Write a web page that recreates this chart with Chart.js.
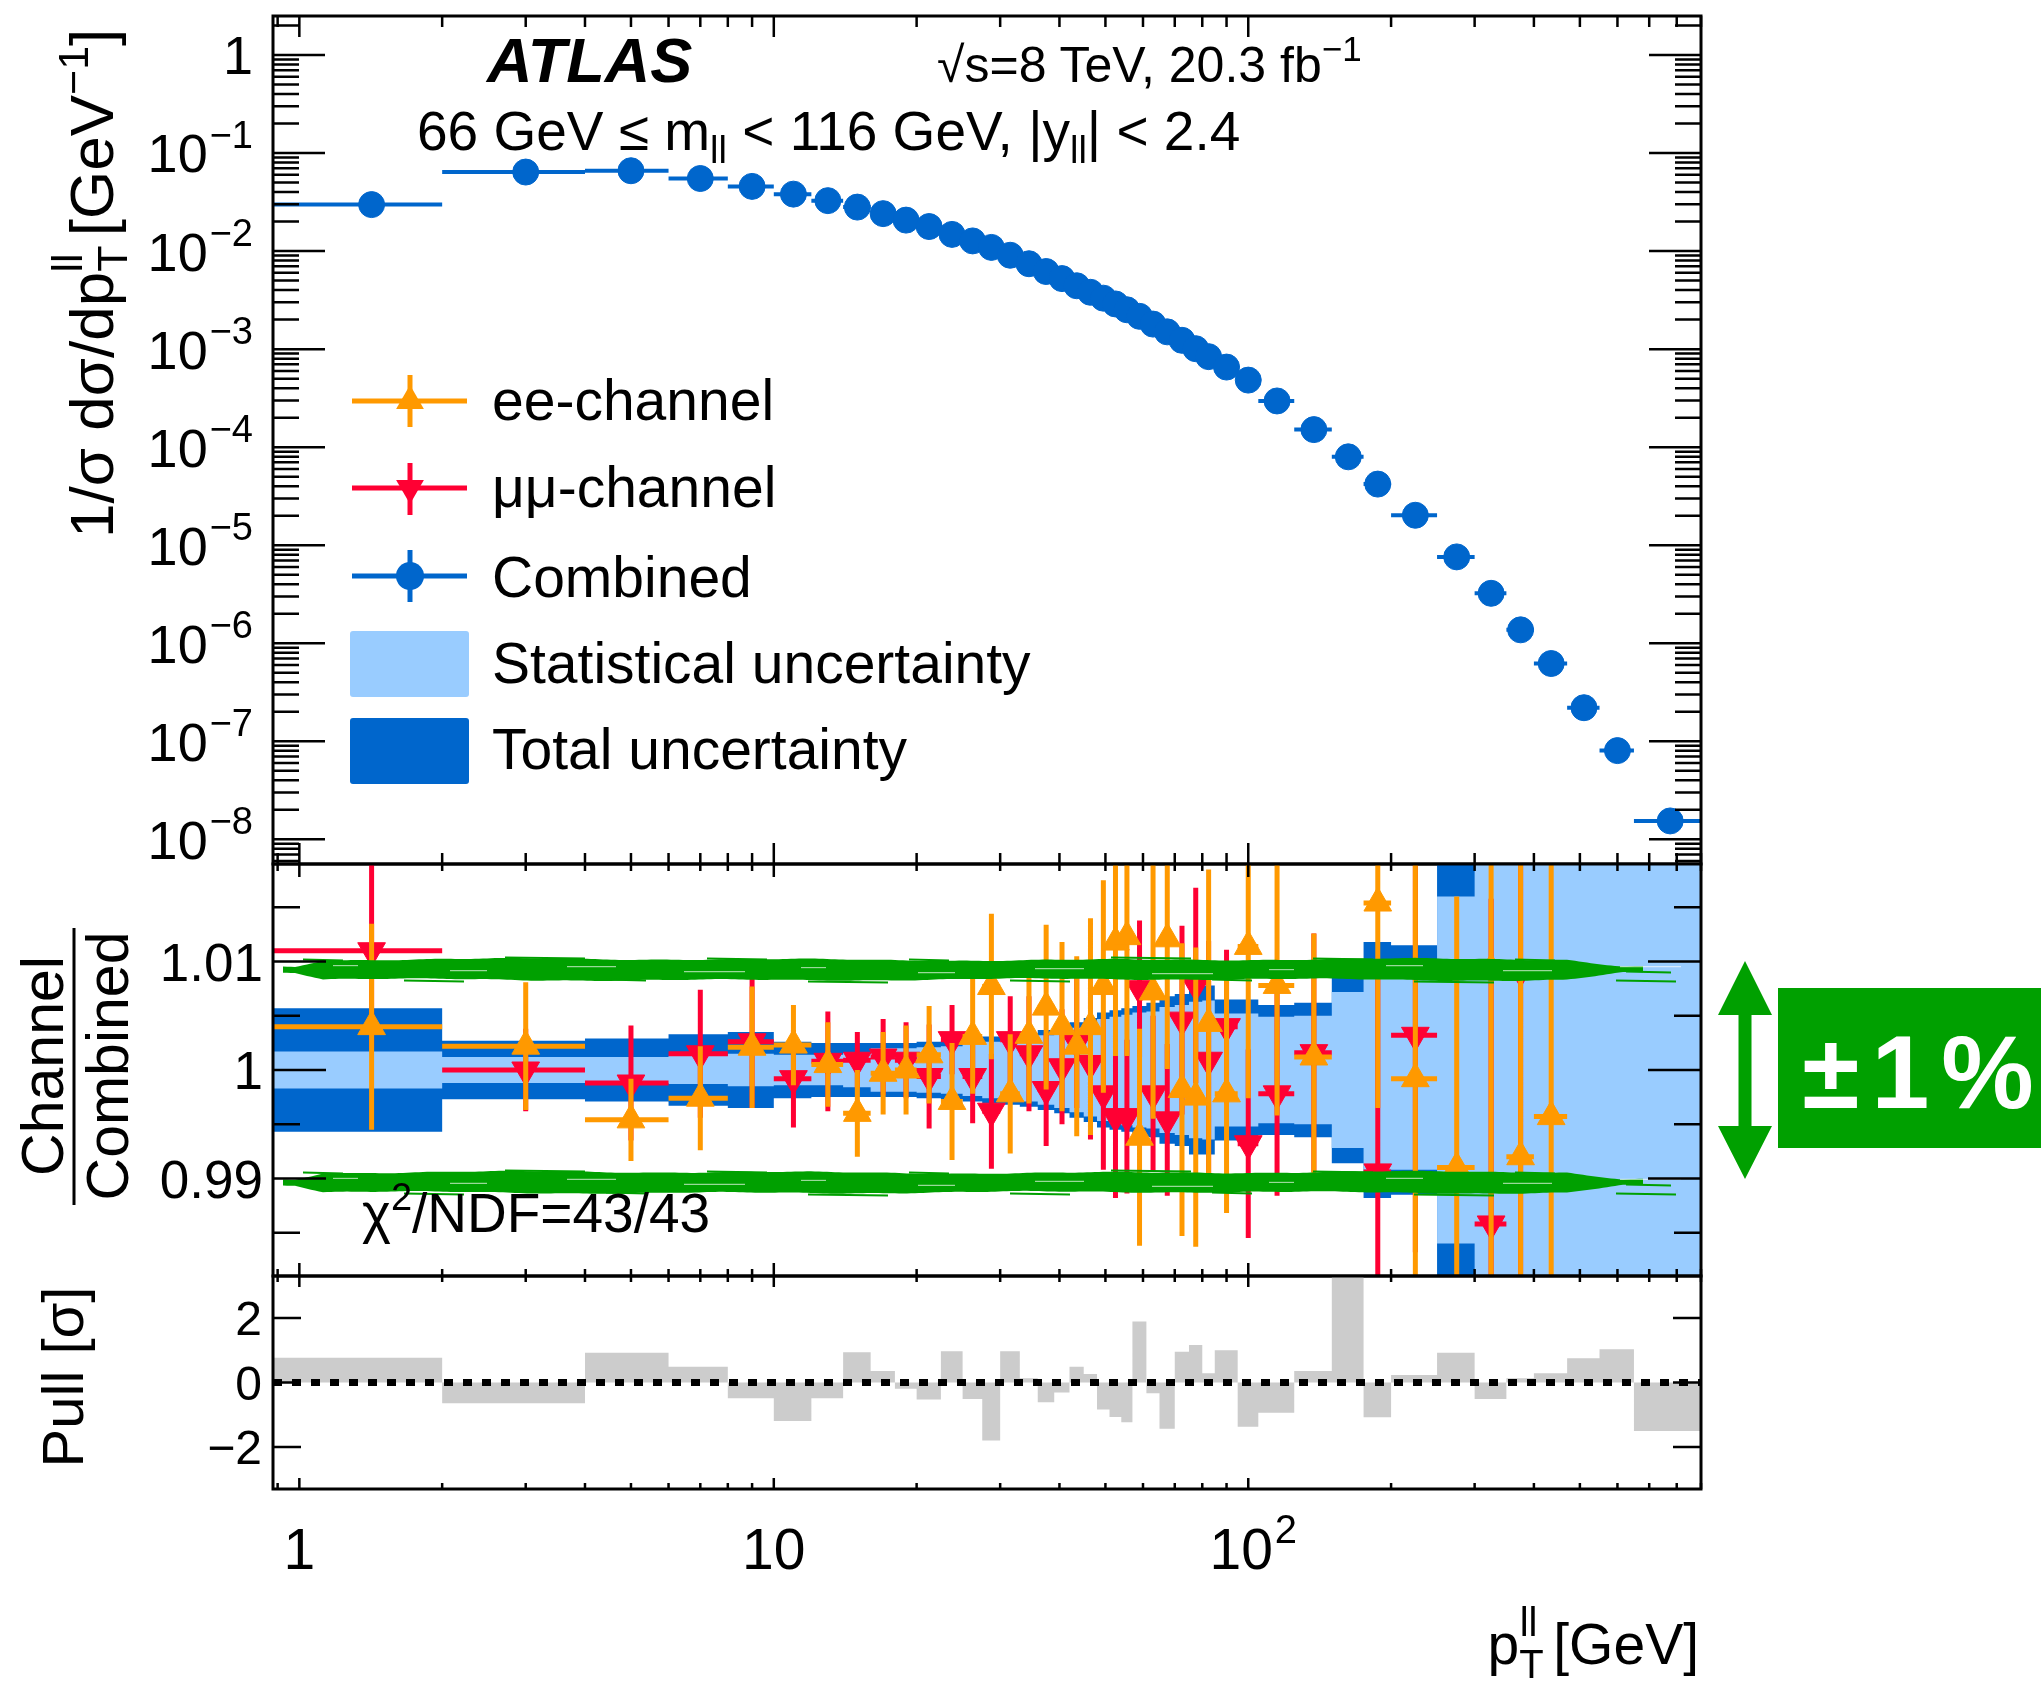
<!DOCTYPE html>
<html>
<head>
<meta charset="utf-8">
<title>ATLAS pT(ll) channel comparison</title>
<script src="https://cdn.jsdelivr.net/npm/chart.js@4.4.1/dist/chart.umd.min.js"></script>
<style>
    html, body { margin: 0; padding: 0; background: #ffffff; }
    #page { position: relative; width: 2041px; height: 1688px; overflow: hidden; background: #ffffff; }
    #page canvas, #page svg { position: absolute; left: 0; top: 0; }
    svg text { font-family: "Liberation Sans", Arial, Helvetica, sans-serif; fill: #000000; }
</style>
</head>
<body>
<div id="page">
    <canvas id="spectrumChart" width="2041" height="1688"></canvas>
    <canvas id="ratioChart" width="2041" height="1688"></canvas>
    <canvas id="pullChart" width="2041" height="1688"></canvas>
    <svg width="2041" height="1688" viewBox="0 0 2041 1688">
        <!-- header -->
        <text x="487" y="82" font-size="63" font-weight="bold" font-style="italic">ATLAS</text>
        <text x="937" y="82" font-size="50">√s=8 TeV, 20.3 fb<tspan dy="-21" font-size="35">−1</tspan></text>
        <text x="417" y="150" font-size="55">66 GeV ≤ m<tspan dy="13" font-size="38">ll</tspan><tspan dy="-13"> &lt; 116 GeV, |y</tspan><tspan dy="13" font-size="38">ll</tspan><tspan dy="-13">| &lt; 2.4</tspan></text>

        <!-- legend -->
        <g stroke-width="5">
            <line x1="352" y1="401" x2="467" y2="401" stroke="#ff9900"/>
            <line x1="410" y1="375" x2="410" y2="427" stroke="#ff9900"/>
            <line x1="352" y1="488" x2="467" y2="488" stroke="#ff0033"/>
            <line x1="410" y1="463" x2="410" y2="515" stroke="#ff0033"/>
            <line x1="352" y1="576" x2="467" y2="576" stroke="#0066cc"/>
            <line x1="410" y1="550" x2="410" y2="602" stroke="#0066cc"/>
        </g>
        <polygon points="410,385 423.9,409 396.1,409" fill="#ff9900"/>
        <polygon points="410,504 423.9,480 396.1,480" fill="#ff0033"/>
        <circle cx="410" cy="576" r="14" fill="#0066cc"/>
        <rect x="350" y="631" width="119" height="66" rx="3" fill="#99ccff"/>
        <rect x="350" y="718" width="119" height="66" rx="3" fill="#0066cc"/>
        <text x="492" y="420" font-size="57">ee-channel</text>
        <text x="492" y="507" font-size="57">μμ-channel</text>
        <text x="492" y="597" font-size="57">Combined</text>
        <text x="492" y="683" font-size="57">Statistical uncertainty</text>
        <text x="492" y="769" font-size="57">Total uncertainty</text>

        <!-- axis titles -->
        <text transform="translate(113,538) rotate(-90)" font-size="62">1/σ dσ/dp<tspan dy="14" font-size="43">T</tspan><tspan dx="-27" dy="-45" font-size="43">ll</tspan><tspan dy="31"> [GeV</tspan><tspan dy="-25" font-size="43">−1</tspan><tspan dy="25">]</tspan></text>
        <text transform="translate(63,1066) rotate(-90)" text-anchor="middle" font-size="59">Channel</text>
        <line x1="74" y1="928" x2="74" y2="1205" stroke="#000000" stroke-width="3"/>
        <text transform="translate(128,1066) rotate(-90)" text-anchor="middle" font-size="59">Combined</text>
        <text transform="translate(83,1377) rotate(-90)" text-anchor="middle" font-size="58">Pull [σ]</text>
        <text x="1699" y="1664" text-anchor="end" font-size="57">p<tspan dy="14" font-size="40">T</tspan><tspan dx="-24" dy="-42" font-size="40">ll</tspan><tspan dy="28"> [GeV]</tspan></text>

        <text x="362" y="1232" font-size="55">χ<tspan dy="-22" font-size="38">2</tspan><tspan dy="22">/NDF=43/43</tspan></text>

        <!-- +-1% marker -->
        <polygon points="1745,961 1772,1015 1751.5,1015 1751.5,1126 1772,1126 1745,1179 1718,1126 1738.5,1126 1738.5,1015 1718,1015" fill="#00a000"/>
        <rect x="1778" y="988" width="263" height="160" fill="#00a000"/>
        <text x="1924" y="1108" text-anchor="middle" font-size="104" font-weight="bold" letter-spacing="12" style="fill:#ffffff">±1%</text>
    </svg>
</div>
<script>
let binEdges = [0, 2, 4, 6, 8, 10, 12, 14, 16, 18, 20, 22.5, 25, 27.5, 30, 33, 36, 39, 42, 45, 48, 51, 54, 57,
    61, 65, 70, 75, 80, 85, 95, 105, 125, 150, 175, 200, 250, 300, 350, 400, 470, 550, 650, 900];

let binCentres = [1.42, 3, 5, 7, 9, 11, 13, 15, 17, 19, 21.25, 23.75, 26.25, 28.75, 31.5, 34.5, 37.5, 40.5,
    43.5, 46.5, 49.5, 52.5, 55.5, 59, 63, 67.5, 72.5, 77.5, 82.5, 90, 100, 115, 137.5, 162.5, 187.5, 225,
    275, 325, 375, 435, 510, 600, 775];

// 1/sigma dsigma/dpT [1/GeV], combined
let combined = [0.0298, 0.0640, 0.0660, 0.0550, 0.0457, 0.0381, 0.0327, 0.0281, 0.0241, 0.0207,
    0.0178, 0.0148, 0.0127, 0.0109, 0.00907, 0.00743, 0.00619, 0.00524, 0.00443, 0.00380,
    0.00331, 0.00289, 0.00252, 0.00216, 0.00180, 0.00150, 0.00123, 0.00101, 0.000838, 0.000656,
    0.000483, 0.000296, 0.000151, 7.97e-5, 4.20e-5, 2.02e-5, 7.60e-6, 3.23e-6, 1.37e-6, 6.21e-7,
    2.20e-7, 8.03e-8, 1.54e-8];

// relative uncertainties of the combination, in percent
let statUncPct = [0.17, 0.12, 0.12, 0.13, 0.15, 0.14, 0.14, 0.16, 0.20, 0.20, 0.21, 0.22, 0.24, 0.26,
    0.27, 0.29, 0.32, 0.35, 0.39, 0.43, 0.47, 0.49, 0.51, 0.53, 0.54, 0.58, 0.60, 0.63, 0.64, 0.52,
    0.52, 0.49, 0.50, 0.72, 0.92, 0.92, 1.6, 2.2, 2.6, 3.0, 4.0, 5.5, 8.0];
let totUncPct = [0.57, 0.27, 0.29, 0.33, 0.35, 0.26, 0.25, 0.25, 0.25, 0.25, 0.26, 0.27, 0.29, 0.31,
    0.32, 0.34, 0.37, 0.40, 0.44, 0.48, 0.53, 0.55, 0.57, 0.59, 0.62, 0.68, 0.70, 0.78, 0.78, 0.65,
    0.65, 0.60, 0.62, 0.86, 1.18, 1.15, 2.05, 3.2, 3.8, 4.5, 6.0, 8.0, 12.0];

// channel / combined
let eeRatio = [1.0040, 1.0022, 0.9954, 0.9974, 1.0021, 1.0023, 1.0005, 0.9960, 0.9997, 1.0000,
    1.0014, 0.9971, 1.0031, 1.0077, 0.9978, 1.0032, 1.0058, 1.0040, 1.0022, 1.0040,
    1.0077, 1.0118, 1.0123, 0.9938, 1.0072, 1.0121, 0.9982, 0.9975, 1.0043, 0.9978,
    1.0114, 1.0078, 1.0012, null, 1.0154, 0.9992, 0.9910, 1.0093, 0.9920, 0.9957,
    null, null, null];
let eeErr = [0.0095, 0.0059, 0.0038, 0.0048, 0.0056, 0.0037, 0.0039, 0.0040, 0.0038, 0.0041,
    0.0045, 0.0054, 0.0053, 0.0067, 0.0055, 0.0063, 0.0076, 0.0078, 0.0083, 0.0100,
    0.0098, 0.0105, 0.0110, 0.0100, 0.0117, 0.0120, 0.0135, 0.0138, 0.0142, 0.0110,
    0.0140, 0.0120, 0.0114, null, 0.0189, 0.0220, 0.0250, 0.0300, 0.0350, 0.0400,
    null, null, null];
let mmRatio = [1.0110, 1.0000, 0.9988, 1.0015, 1.0026, 0.9992, 1.0008, 1.0009, 1.0012, 1.0009,
    0.9994, 1.0028, 0.9994, 0.9962, 1.0028, 1.0015, 0.9982, 1.0003, 1.0025, 1.0006,
    0.9978, 0.9957, 0.9957, 1.0075, 0.9978, 0.9954, 1.0046, 1.0078, 1.0009, 1.0040,
    0.9932, 0.9978, 1.0016, null, 0.9906, 1.0032, null, 0.9858, 1.0091, null,
    null, null, null];
let mmErr = [0.0090, 0.0038, 0.0053, 0.0059, 0.0061, 0.0045, 0.0046, 0.0026, 0.0035, 0.0035,
    0.0048, 0.0032, 0.0043, 0.0053, 0.0040, 0.0053, 0.0052, 0.0053, 0.0060, 0.0070,
    0.0070, 0.0075, 0.0071, 0.0063, 0.0072, 0.0070, 0.0087, 0.0090, 0.0110, 0.0071,
    0.0087, 0.0094, 0.0110, null, 0.0180, 0.0200, null, 0.0300, 0.0350, null,
    null, null, null];

// pull between the two channels [sigma]
let pull = [0.77, -0.64, 0.92, 0.49, -0.49, -1.19, -0.49, 0.94, 0.36, -0.19, -0.53, 0.97, -0.51,
    -1.80, 0.97, 0.13, -0.61, -0.31, 0.49, 0.26, -0.84, -1.07, -1.23, 1.89, -0.33, -1.43, 0.95,
    1.16, 0.29, 1.00, -1.37, -0.94, 0.36, 3.60, -1.08, 0.23, 0.92, -0.51, 0.13, 0.29, 0.75, 1.03, -1.50];

let spectrumTicks = [1, 0.1, 0.01, 1e-3, 1e-4, 1e-5, 1e-6, 1e-7, 1e-8];
let ratioTicks = [0.99, 1, 1.01];
let pullTicks = [-2, 0, 2];
let xLabelTicks = [1, 10, 100];

let xMin = 0.88;
let xMax = 900;

let blue = '#0066cc';
let lightBlue = '#99ccff';
let orange = '#ff9900';
let red = '#ff0033';
let green = '#00a000';
let clear = 'rgba(0,0,0,0)';
let fontFamily = '"Liberation Sans", Arial, Helvetica, sans-serif';


function binLines(values) {
    let points = [];
    for (let i = 0; i < values.length; i++) {
        if (values[i] === null) {
            continue;
        }
        points.push({ x: Math.max(binEdges[i], xMin), y: values[i] });
        points.push({ x: binEdges[i + 1], y: values[i] });
        points.push({ x: binEdges[i + 1], y: null });
    }
    return points;
}

function errorLines(values, errors) {
    let points = [];
    for (let i = 0; i < values.length; i++) {
        if (values[i] === null) {
            continue;
        }
        points.push({ x: binCentres[i], y: values[i] - errors[i] });
        points.push({ x: binCentres[i], y: values[i] + errors[i] });
        points.push({ x: binCentres[i], y: null });
    }
    return points.concat(binLines(values));
}

function markers(values) {
    let points = [];
    for (let i = 0; i < values.length; i++) {
        if (values[i] !== null) {
            points.push({ x: binCentres[i], y: values[i] });
        }
    }
    return points;
}

function steps(values) {
    let points = [];
    for (let i = 0; i < values.length; i++) {
        points.push({ x: Math.max(binEdges[i], xMin), y: values[i] });
    }
    points.push({ x: binEdges[binEdges.length - 1], y: values[values.length - 1] });
    return points;
}

function band(pct, sign) {
    let out = [];
    for (let i = 0; i < pct.length; i++) {
        out.push(1 + sign * pct[i] / 100);
    }
    return steps(out);
}

function logTicks(min, max) {
    let major = [];
    let minor = [];
    for (let k = Math.floor(Math.log10(min)); k <= Math.ceil(Math.log10(max)); k++) {
        for (let m = 1; m < 10; m++) {
            let v = m * Math.pow(10, k);
            if (v < min || v > max) {
                continue;
            }
            if (m === 1) {
                major.push(v);
            } else {
                minor.push(v);
            }
        }
    }
    return { major: major, minor: minor };
}

function drawLabel(ctx, text, sup, x, y, size, align) {
    let supSize = Math.round(size * 0.7);
    ctx.font = size + 'px ' + fontFamily;
    let w = ctx.measureText(text).width;
    let sw = 0;
    if (sup) {
        ctx.font = supSize + 'px ' + fontFamily;
        sw = ctx.measureText(sup).width + 2;
    }
    let left = align === 'right' ? x - w - sw : x - (w + sw) / 2;
    ctx.textAlign = 'left';
    ctx.textBaseline = 'alphabetic';
    ctx.font = size + 'px ' + fontFamily;
    ctx.fillText(text, left, y);
    if (sup) {
        ctx.font = supSize + 'px ' + fontFamily;
        ctx.fillText(sup, left + w + 2, y - size * 0.45);
    }
}

// irregular edge for the hand drawn marker lines
function rough(x, seed) {
    return 0.8 * Math.sin(x * 0.021 + seed) + 0.6 * Math.sin(x * 0.0073 + 1.3 * seed) +
        0.35 * Math.sin(x * 0.083 + 0.7 * seed);
}

function drawBrush(ctx, x0, x1, yc) {
    ctx.save();
    ctx.fillStyle = green;
    let top = [];
    let bottom = [];
    for (let x = x0; x <= x1; x += 4) {
        let taper = Math.max(0.3, Math.min(1, (x - x0) / 40, (x1 - x) / 80));
        top.push([x, yc - 10 * taper + rough(x, 0.4)]);
        bottom.push([x, yc + 10 * taper + rough(x, 2.1)]);
    }
    ctx.beginPath();
    ctx.moveTo(top[0][0], top[0][1]);
    for (let i = 1; i < top.length; i++) {
        ctx.lineTo(top[i][0], top[i][1]);
    }
    for (let i = bottom.length - 1; i >= 0; i--) {
        ctx.lineTo(bottom[i][0], bottom[i][1]);
    }
    ctx.closePath();
    ctx.fill();

    // loose bristles around the stroke
    ctx.strokeStyle = green;
    ctx.lineWidth = 2;
    for (let k = 0; k < 14; k++) {
        let sx = x0 + 20 + k * 101;
        let off = (k % 2 === 0 ? -1 : 1) * (10 + (k % 3));
        ctx.beginPath();
        ctx.moveTo(sx, yc + off);
        ctx.lineTo(sx + 40 + 20 * (k % 3), yc + off + 1);
        ctx.stroke();
    }
    ctx.beginPath();
    ctx.moveTo(x1 - 20, yc + 2);
    ctx.lineTo(x1 + 25, yc + 3);
    ctx.stroke();

    // dry streaks inside the stroke
    ctx.strokeStyle = 'rgba(255,255,255,0.6)';
    ctx.lineWidth = 1.2;
    for (let k = 0; k < 12; k++) {
        let sx = x0 + 50 + k * 117;
        let off = ((k * 5) % 9) - 4;
        ctx.beginPath();
        ctx.moveTo(sx, yc + off);
        ctx.lineTo(sx + 25 + (k % 4) * 12, yc + off);
        ctx.stroke();
    }
    ctx.restore();
}

// ROOT style frame: ticks inside on all four sides, labels drawn by hand
let framePlugin = {
    id: 'rootFrame',
    afterDatasetsDraw(chart, args, opts) {
        let ctx = chart.ctx;
        let a = chart.chartArea;
        let xs = chart.scales.x;
        let ys = chart.scales.y;
        ctx.save();

        if (opts.brush) {
            for (let i = 0; i < opts.brush.length; i++) {
                let py = ys.getPixelForValue(opts.brush[i].value) + opts.brush[i].shift;
                drawBrush(ctx, a.left + 10, a.right - 55, py);
            }
        }

        ctx.strokeStyle = '#000000';
        ctx.lineWidth = 2.5;
        ctx.beginPath();
        let xt = logTicks(xMin, xMax);
        let xLists = [[xt.major, opts.xMajorLen], [xt.minor, opts.xMinorLen]];
        for (let j = 0; j < xLists.length; j++) {
            for (let i = 0; i < xLists[j][0].length; i++) {
                let px = xs.getPixelForValue(xLists[j][0][i]);
                ctx.moveTo(px, a.bottom);
                ctx.lineTo(px, a.bottom - xLists[j][1]);
                ctx.moveTo(px, a.top);
                ctx.lineTo(px, a.top + xLists[j][1]);
            }
        }
        let yLists = [[opts.yMajor, opts.yMajorLen], [opts.yMinor, opts.yMinorLen]];
        for (let j = 0; j < yLists.length; j++) {
            for (let i = 0; i < yLists[j][0].length; i++) {
                let py = ys.getPixelForValue(yLists[j][0][i]);
                ctx.moveTo(a.left, py);
                ctx.lineTo(a.left + yLists[j][1], py);
                ctx.moveTo(a.right, py);
                ctx.lineTo(a.right - yLists[j][1], py);
            }
        }
        ctx.stroke();
        ctx.lineWidth = 3;
        ctx.strokeRect(a.left, a.top, a.right - a.left, a.bottom - a.top);

        ctx.fillStyle = '#000000';
        for (let i = 0; i < opts.yLabels.length; i++) {
            let lab = opts.yLabels[i];
            let py = ys.getPixelForValue(lab.value);
            drawLabel(ctx, lab.text, lab.sup, opts.labelX, py + opts.labelSize * 0.36, opts.labelSize, 'right');
        }
        if (opts.xLabels) {
            for (let i = 0; i < opts.xLabels.length; i++) {
                let lab = opts.xLabels[i];
                let px = xs.getPixelForValue(lab.value);
                drawLabel(ctx, lab.text, lab.sup, px + (lab.sup ? 5 : 0), opts.xLabelY, 57, 'center');
            }
        }
        ctx.restore();
    }
};

function chartOptions(padTop, padBottom, yScale, frame) {
    return {
        responsive: false,
        animation: false,
        devicePixelRatio: 1,
        events: [],
        layout: { padding: { left: 273, right: 340, top: padTop, bottom: padBottom } },
        elements: { line: { tension: 0 } },
        plugins: {
            legend: { display: false },
            tooltip: { enabled: false },
            rootFrame: frame
        },
        scales: {
            x: { type: 'logarithmic', min: xMin, max: xMax, display: false },
            y: yScale
        }
    };
}

// --- top: normalised spectrum ---
let spectrumLabels = [];
for (let i = 0; i < spectrumTicks.length; i++) {
    let k = Math.round(Math.log10(spectrumTicks[i]));
    spectrumLabels.push({ value: spectrumTicks[i], text: k === 0 ? '1' : '10', sup: k === 0 ? '' : '\u2212' + (-k) });
}
let yTop = logTicks(5.6e-9, 2.5);

new Chart(document.getElementById('spectrumChart'), {
    type: 'line',
    data: {
        datasets: [{
            data: markers(combined),
            showLine: false,
            pointStyle: 'circle',
            pointRadius: 13,
            pointBackgroundColor: blue,
            pointBorderColor: blue,
            pointBorderWidth: 1,
            order: 1
        }, {
            data: binLines(combined),
            borderColor: blue,
            borderWidth: 4,
            pointRadius: 0,
            order: 2
        }]
    },
    options: chartOptions(16, 1688 - 864,
        { type: 'logarithmic', min: 5.6e-9, max: 2.5, display: false },
        {
            xMajorLen: 21, xMinorLen: 11,
            yMajor: yTop.major, yMinor: yTop.minor, yMajorLen: 52, yMinorLen: 26,
            yLabels: spectrumLabels, labelX: 253, labelSize: 54
        }),
    plugins: [framePlugin]
});

// --- middle: channel / combined ---
let ratioLabels = [];
for (let i = 0; i < ratioTicks.length; i++) {
    ratioLabels.push({ value: ratioTicks[i], text: String(ratioTicks[i]), sup: '' });
}

new Chart(document.getElementById('ratioChart'), {
    type: 'line',
    data: {
        datasets: [{
            data: markers(eeRatio),
            showLine: false,
            pointStyle: 'triangle',
            pointRadius: 16,
            pointBackgroundColor: orange,
            pointBorderColor: orange,
            pointBorderWidth: 1,
            order: 1
        }, {
            data: errorLines(eeRatio, eeErr),
            borderColor: orange,
            borderWidth: 5,
            pointRadius: 0,
            order: 2
        }, {
            data: markers(mmRatio),
            showLine: false,
            pointStyle: 'triangle',
            pointRotation: 180,
            pointRadius: 16,
            pointBackgroundColor: red,
            pointBorderColor: red,
            pointBorderWidth: 1,
            order: 3
        }, {
            data: errorLines(mmRatio, mmErr),
            borderColor: red,
            borderWidth: 5,
            pointRadius: 0,
            order: 4
        }, {
            data: band(statUncPct, 1),
            stepped: true,
            borderColor: clear,
            borderWidth: 0,
            pointRadius: 0,
            fill: '+1',
            backgroundColor: lightBlue,
            order: 5
        }, {
            data: band(statUncPct, -1),
            stepped: true,
            borderColor: clear,
            borderWidth: 0,
            pointRadius: 0,
            fill: false,
            order: 6
        }, {
            data: band(totUncPct, 1),
            stepped: true,
            borderColor: clear,
            borderWidth: 0,
            pointRadius: 0,
            fill: '+1',
            backgroundColor: blue,
            order: 7
        }, {
            data: band(totUncPct, -1),
            stepped: true,
            borderColor: clear,
            borderWidth: 0,
            pointRadius: 0,
            fill: false,
            order: 8
        }]
    },
    options: chartOptions(864, 1688 - 1276,
        { type: 'linear', min: 0.981, max: 1.019, display: false },
        {
            xMajorLen: 13, xMinorLen: 7,
            yMajor: ratioTicks, yMinor: [0.985, 0.995, 1.005, 1.015], yMajorLen: 53, yMinorLen: 27,
            yLabels: ratioLabels, labelX: 263, labelSize: 53,
            brush: [{ value: 1.01, shift: 8 }, { value: 0.99, shift: 4 }]
        }),
    plugins: [framePlugin]
});

// --- bottom: pull ---
let pullLabels = [];
for (let i = 0; i < pullTicks.length; i++) {
    pullLabels.push({ value: pullTicks[i], text: pullTicks[i] < 0 ? '\u2212' + (-pullTicks[i]) : String(pullTicks[i]), sup: '' });
}
let xLabels = [];
for (let i = 0; i < xLabelTicks.length; i++) {
    let k = Math.round(Math.log10(xLabelTicks[i]));
    xLabels.push({ value: xLabelTicks[i], text: k < 2 ? String(xLabelTicks[i]) : '10', sup: k < 2 ? '' : String(k) });
}

new Chart(document.getElementById('pullChart'), {
    type: 'line',
    data: {
        datasets: [{
            data: [{ x: xMin, y: 0 }, { x: xMax, y: 0 }],
            borderColor: '#000000',
            borderWidth: 7,
            borderDash: [9, 10],
            pointRadius: 0,
            order: 1
        }, {
            data: steps(pull),
            stepped: true,
            borderColor: clear,
            borderWidth: 0,
            pointRadius: 0,
            fill: 'origin',
            backgroundColor: '#cccccc',
            order: 2
        }]
    },
    options: chartOptions(1276, 1688 - 1489,
        { type: 'linear', min: -3.3, max: 3.3, display: false },
        {
            xMajorLen: 11, xMinorLen: 6,
            yMajor: pullTicks, yMinor: [], yMajorLen: 28, yMinorLen: 0,
            yLabels: pullLabels, labelX: 262, labelSize: 48,
            xLabels: xLabels, xLabelY: 1569
        }),
    plugins: [framePlugin]
});
</script>
</body>
</html>
